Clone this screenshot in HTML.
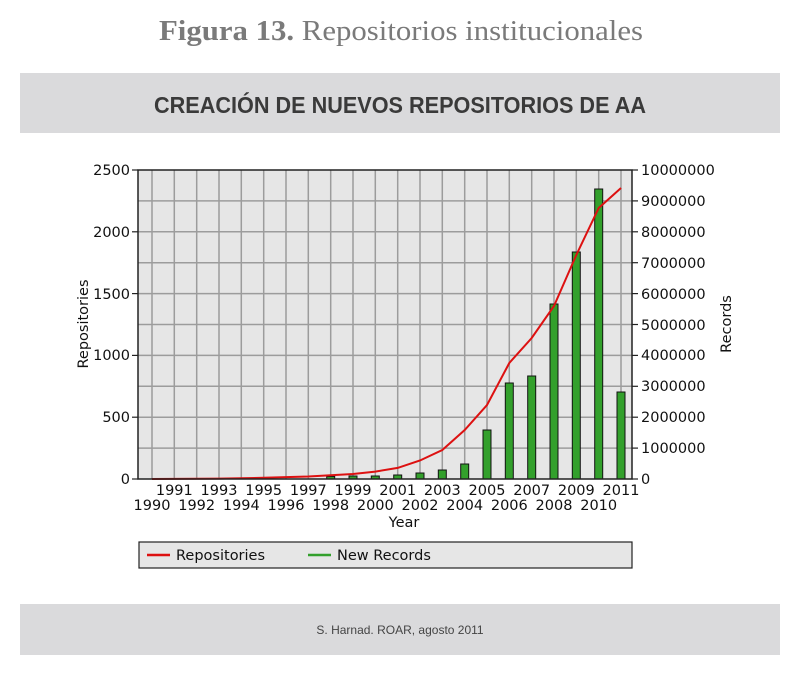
<!DOCTYPE html>
<html><head><meta charset="utf-8"><style>
html,body{margin:0;padding:0;background:#fff}
svg{display:block}
</style></head><body>
<svg width="800" height="675" xmlns="http://www.w3.org/2000/svg" font-family="DejaVu Sans, sans-serif">
<text x="401" y="40" text-anchor="middle" font-family="Liberation Serif, serif" font-size="28" fill="#7a7a7a" textLength="484" lengthAdjust="spacingAndGlyphs"><tspan font-weight="bold">Figura 13.</tspan> Repositorios institucionales</text>
<rect x="20" y="73" width="760" height="60" fill="#dadadc"/>
<text x="400" y="113" text-anchor="middle" font-family="Liberation Sans, sans-serif" font-weight="bold" font-size="23" fill="#3a3a3a" textLength="492" lengthAdjust="spacingAndGlyphs">CREACIÓN DE NUEVOS REPOSITORIOS DE AA</text>
<rect x="20" y="604" width="760" height="51" fill="#dadadc"/>
<text x="400" y="634" text-anchor="middle" font-family="Liberation Sans, sans-serif" font-size="12" fill="#444">S. Harnad. ROAR, agosto 2011</text>

<rect x="138" y="170" width="494" height="309" fill="#e6e6e6"/>
<g stroke="#9c9c9c" stroke-width="1.5">
<line x1="138" x2="632" y1="200.9" y2="200.9"/><line x1="138" x2="632" y1="231.8" y2="231.8"/><line x1="138" x2="632" y1="262.7" y2="262.7"/><line x1="138" x2="632" y1="293.6" y2="293.6"/><line x1="138" x2="632" y1="324.5" y2="324.5"/><line x1="138" x2="632" y1="355.4" y2="355.4"/><line x1="138" x2="632" y1="386.3" y2="386.3"/><line x1="138" x2="632" y1="417.2" y2="417.2"/><line x1="138" x2="632" y1="448.1" y2="448.1"/>
<line y1="170" y2="479" x1="152" x2="152"/><line y1="170" y2="479" x1="174.3" x2="174.3"/><line y1="170" y2="479" x1="196.7" x2="196.7"/><line y1="170" y2="479" x1="219" x2="219"/><line y1="170" y2="479" x1="241.3" x2="241.3"/><line y1="170" y2="479" x1="263.7" x2="263.7"/><line y1="170" y2="479" x1="286" x2="286"/><line y1="170" y2="479" x1="308.3" x2="308.3"/><line y1="170" y2="479" x1="330.7" x2="330.7"/><line y1="170" y2="479" x1="353" x2="353"/><line y1="170" y2="479" x1="375.3" x2="375.3"/><line y1="170" y2="479" x1="397.7" x2="397.7"/><line y1="170" y2="479" x1="420" x2="420"/><line y1="170" y2="479" x1="442.3" x2="442.3"/><line y1="170" y2="479" x1="464.7" x2="464.7"/><line y1="170" y2="479" x1="487" x2="487"/><line y1="170" y2="479" x1="509.3" x2="509.3"/><line y1="170" y2="479" x1="531.7" x2="531.7"/><line y1="170" y2="479" x1="554" x2="554"/><line y1="170" y2="479" x1="576.3" x2="576.3"/><line y1="170" y2="479" x1="598.7" x2="598.7"/><line y1="170" y2="479" x1="621" x2="621"/>
</g>
<g fill="#33a02c" stroke="#111" stroke-width="1">
<rect x="326.7" y="476.5" width="8" height="2.5"/><rect x="349" y="476" width="8" height="3"/><rect x="371.3" y="476" width="8" height="3"/><rect x="393.7" y="475" width="8" height="4"/><rect x="416" y="473" width="8" height="6"/><rect x="438.3" y="470" width="8" height="9"/><rect x="460.7" y="464" width="8" height="15"/><rect x="483" y="430" width="8" height="49"/><rect x="505.3" y="383" width="8" height="96"/><rect x="527.7" y="376" width="8" height="103"/><rect x="550" y="304" width="8" height="175"/><rect x="572.3" y="252" width="8" height="227"/><rect x="594.7" y="189" width="8" height="290"/><rect x="617" y="392" width="8" height="87"/>
</g>
<polyline fill="none" stroke="#dd1111" stroke-width="2" points="152,479 219,478.6 263.7,477.8 308.3,476.5 353,474 375.3,471.6 397.7,467.9 420,460.5 442.3,450 464.7,430 487,405 509.3,363 531.7,338 554,306 576.3,255 598.7,208 621,188"/>
<rect x="138" y="170" width="494" height="309" fill="none" stroke="#222" stroke-width="1.5"/>
<g stroke="#222" stroke-width="1.2">
<line x1="132" x2="138" y1="170" y2="170"/><line x1="132" x2="138" y1="231.8" y2="231.8"/><line x1="132" x2="138" y1="293.6" y2="293.6"/><line x1="132" x2="138" y1="355.4" y2="355.4"/><line x1="132" x2="138" y1="417.2" y2="417.2"/><line x1="132" x2="138" y1="479" y2="479"/>
<line x1="632" x2="638" y1="170" y2="170"/><line x1="632" x2="638" y1="200.9" y2="200.9"/><line x1="632" x2="638" y1="231.8" y2="231.8"/><line x1="632" x2="638" y1="262.7" y2="262.7"/><line x1="632" x2="638" y1="293.6" y2="293.6"/><line x1="632" x2="638" y1="324.5" y2="324.5"/><line x1="632" x2="638" y1="355.4" y2="355.4"/><line x1="632" x2="638" y1="386.3" y2="386.3"/><line x1="632" x2="638" y1="417.2" y2="417.2"/><line x1="632" x2="638" y1="448.1" y2="448.1"/><line x1="632" x2="638" y1="479" y2="479"/>
</g>
<g font-size="14.5" fill="#111" text-anchor="end">
<text x="130" y="175">2500</text><text x="130" y="237">2000</text><text x="130" y="299">1500</text><text x="130" y="360">1000</text><text x="130" y="422">500</text><text x="130" y="484">0</text>
</g>
<g font-size="14.5" fill="#111">
<text x="641" y="175">10000000</text><text x="641" y="206">9000000</text><text x="641" y="237">8000000</text><text x="641" y="268">7000000</text><text x="641" y="299">6000000</text><text x="641" y="330">5000000</text><text x="641" y="360">4000000</text><text x="641" y="391">3000000</text><text x="641" y="422">2000000</text><text x="641" y="453">1000000</text><text x="641" y="484">0</text>
</g>
<g font-size="14.5" fill="#111" text-anchor="middle">
<text x="174.3" y="495">1991</text><text x="219" y="495">1993</text><text x="263.7" y="495">1995</text><text x="308.3" y="495">1997</text><text x="353" y="495">1999</text><text x="397.7" y="495">2001</text><text x="442.3" y="495">2003</text><text x="487" y="495">2005</text><text x="531.7" y="495">2007</text><text x="576.3" y="495">2009</text><text x="621" y="495">2011</text>
<text x="152" y="510">1990</text><text x="196.7" y="510">1992</text><text x="241.3" y="510">1994</text><text x="286" y="510">1996</text><text x="330.7" y="510">1998</text><text x="375.3" y="510">2000</text><text x="420" y="510">2002</text><text x="464.7" y="510">2004</text><text x="509.3" y="510">2006</text><text x="554" y="510">2008</text><text x="598.7" y="510">2010</text>
<text x="404" y="527">Year</text>
<text transform="translate(88,324) rotate(-90)">Repositories</text>
<text transform="translate(731,324) rotate(-90)">Records</text>
</g>
<rect x="139" y="542" width="493" height="26" fill="#e6e6e6" stroke="#222" stroke-width="1.2"/>
<line x1="147" x2="170" y1="555" y2="555" stroke="#dd1111" stroke-width="2.5"/>
<text x="176" y="560" font-size="14.5" fill="#111">Repositories</text>
<line x1="308" x2="331" y1="555" y2="555" stroke="#33a02c" stroke-width="2.5"/>
<text x="337" y="560" font-size="14.5" fill="#111">New Records</text>
</svg>
</body></html>
